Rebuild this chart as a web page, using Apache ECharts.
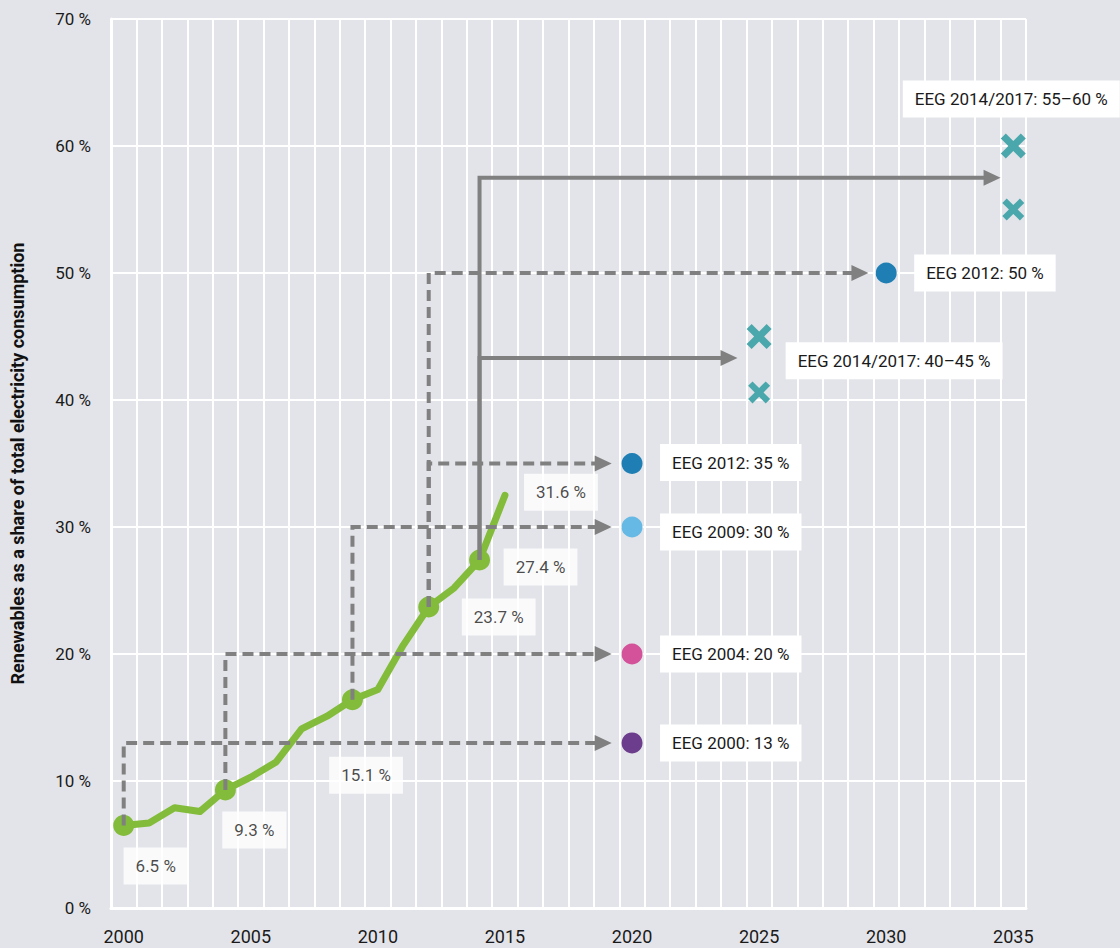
<!DOCTYPE html>
<html><head><meta charset="utf-8">
<script src="https://cdn.jsdelivr.net/npm/echarts@6/dist/echarts.min.js"></script>
<style>html,body{margin:0;padding:0;background:#e3e4e9;}#c{width:1120px;height:948px;}</style>
</head><body><div id="c"></div>
<script>
// ---------- DATA ----------
const categories = ['2000','2001','2002','2003','2004','2005','2006','2007','2008','2009',
  '2010','2011','2012','2013','2014','2015','2016','2017','2018','2019','2020','2021','2022',
  '2023','2024','2025','2026','2027','2028','2029','2030','2031','2032','2033','2034','2035'];
const shareYears  = [2000,2001,2002,2003,2004,2005,2006,2007,2008,2009,2010,2011,2012,2013,2014,2015];
const shareValues = [6.5,6.7,7.9,7.6,9.3,10.3,11.5,14.1,15.1,16.4,17.2,20.7,23.7,25.2,27.4,32.5];
const milestoneYears = [2000,2004,2009,2012,2014];
const pointLabelYears = [2000,2004,2008,2012,2014,2015];
const pointLabelTexts = ['6.5 %','9.3 %','15.1 %','23.7 %','27.4 %','31.6 %'];
const targetYears  = [2020,2020,2020,2020,2030];
const targetValues = [13,20,30,35,50];
const targetLabels = ['EEG 2000: 13 %','EEG 2004: 20 %','EEG 2009: 30 %','EEG 2012: 35 %','EEG 2012: 50 %'];
const corridorYears  = [2025,2025,2035,2035];
const corridorValues = [45,40.6,60,55];
const corridorLabels = ['EEG 2014/2017: 40–45 %','','EEG 2014/2017: 55–60 %',''];
const arrowFrom  = [2000,2004,2009,2012,2012,2014,2014];
const arrowLevel = [13,20,30,35,50,43.3,57.5];
const arrowTip   = [2019.2,2019.2,2019.2,2019.2,2029.3,2024.15,2034.5];
const arrowSolid = [false,false,false,false,false,true,true];

// ---------- STYLE / LAYOUT ----------
const GREEN = '#82bc3a', GRAY = '#808080', TEAL = '#4aa8ad', TXT = '#1a1a1a';
const FONT = 'Roboto';
const targetColors = ['#6c3d8d','#d4529a','#66b9e5','#1f7fb5','#1f7fb5'];
const pointLabelOffsets = [[32,40.5],[29,40],[39,59],[70,10],[61,7],[56,-3]];
const targetLabelOffsets = [[38.5,10.5],[38.5,10.5],[38.5,15.5],[38.5,9.5],[38.5,10.5]];
const corridorLabelOffsets = [[39,36.7],[0,0],[-98,-34.5],[0,0]];
const corridorSizes = [25,22,25,22];
const ARROW_BACK = 0.4;

const valueOf = y => shareValues[shareYears.indexOf(y)];
const boxLabel = (text, off, align) => ({
  show: !!text, formatter: text, position: off, align: align, verticalAlign: 'middle',
  backgroundColor: '#ffffff', padding: [9, 12], fontSize: 17, lineHeight: 19,
  color: TXT, fontFamily: FONT
});

const series = [];
series.push({ type:'line', xAxisIndex:1, z:2, silent:true, symbol:'none',
  data: shareYears.map((y,i)=>[y, shareValues[i]]),
  lineStyle:{color:GREEN, width:7, cap:'round', join:'round'} });
series.push({ type:'scatter', xAxisIndex:1, z:2, silent:true, symbolSize:21,
  itemStyle:{color:GREEN, opacity:1},
  data: milestoneYears.map(y=>[y, valueOf(y)]) });
arrowFrom.forEach((y,i)=>{
  series.push({ type:'line', xAxisIndex:1, z:4, silent:true, symbol:'none',
    data: [[y, valueOf(y)],[y, arrowLevel[i]],[arrowTip[i]-ARROW_BACK, arrowLevel[i]]],
    lineStyle:{color:GRAY, width:4, type: arrowSolid[i] ? 'solid' : [11,6], join:'miter', cap:'butt'} });
});
series.push({ type:'scatter', xAxisIndex:1, z:4, silent:true,
  symbol:'path://M0,0L17,8L0,16Z', symbolSize:[17,16], symbolOffset:[-8.5,0],
  itemStyle:{color:GRAY, opacity:1},
  data: arrowTip.map((t,i)=>[t, arrowLevel[i]]) });
series.push({ type:'scatter', xAxisIndex:1, z:5, silent:true, symbolSize:21,
  data: targetYears.map((y,i)=>({ value:[y, targetValues[i]],
    itemStyle:{color:targetColors[i], opacity:1},
    label: boxLabel(targetLabels[i], targetLabelOffsets[i], 'left') })) });
series.push({ type:'scatter', xAxisIndex:1, z:5, silent:true,
  symbol:'path://M2,0L5,3L8,0L10,2L7,5L10,8L8,10L5,7L2,10L0,8L3,5L0,2Z',
  data: corridorYears.map((y,i)=>({ value:[y, corridorValues[i]], symbolSize: corridorSizes[i],
    itemStyle:{color:TEAL, opacity:1},
    label: boxLabel(corridorLabels[i], corridorLabelOffsets[i], 'left') })) });
series.push({ type:'scatter', xAxisIndex:1, z:6, silent:true, symbolSize:0.01,
  itemStyle:{color:'rgba(0,0,0,0)'},
  data: pointLabelYears.map((y,i)=>({ value:[y, valueOf(y)],
    label: boxLabel(pointLabelTexts[i], pointLabelOffsets[i], 'center') })) });

const chart = echarts.init(document.getElementById('c'), null, {renderer:'svg'});
chart.setOption({
  animation:false,
  backgroundColor:'#e3e4e9',
  grid:{left:111, right:94, top:19, bottom:40, containLabel:false, outerBoundsMode:'none'},
  xAxis:[{
    type:'category', data:categories, boundaryGap:true,
    axisLine:{show:true, lineStyle:{color:'#ffffff', width:3}},
    axisTick:{show:false},
    axisLabel:{interval:4, fontSize:18, color:TXT, fontFamily:FONT, margin:19},
    splitLine:{show:true, interval:0, lineStyle:{color:'#ffffff', width:2}}
  },{
    type:'value', min:1999.5, max:2035.5, show:false, splitLine:{show:false}
  }],
  yAxis:{
    type:'value', min:0, max:70, interval:10,
    name:'Renewables as a share of total electricity consumption',
    nameLocation:'middle', nameGap:85, nameRotate:90,
    nameTextStyle:{fontSize:18, fontWeight:'bold', color:'#111', fontFamily:FONT},
    axisLine:{show:true, lineStyle:{color:'#ffffff', width:3}},
    axisTick:{show:false},
    axisLabel:{formatter:'{value} %', fontSize:17, color:TXT, fontFamily:FONT, margin:20},
    splitLine:{show:true, lineStyle:{color:'#ffffff', width:2}}
  },
  series: series
});
</script></body></html>
